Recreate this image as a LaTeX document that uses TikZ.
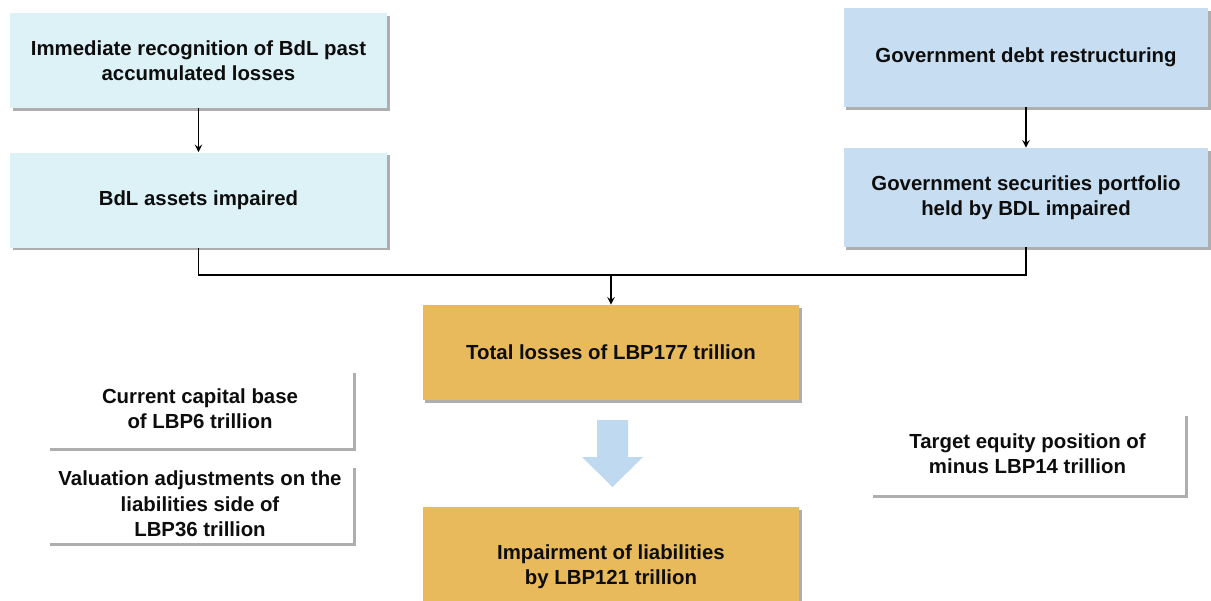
\documentclass[tikz,border=0pt]{standalone}
\usepackage{xcolor}
\usepackage{fontspec}
\setmainfont{Liberation Sans}
\usepackage{tikz}
\usetikzlibrary{calc, shadows}

\definecolor{paleblue}{RGB}{221,242,247}
\definecolor{midblue}{RGB}{199,222,242}
\definecolor{gold}{RGB}{232,186,92}
\definecolor{arrowblue}{RGB}{190,217,240}

\begin{document}
\begin{tikzpicture}[x=0.02cm, y=-0.02cm,
		box/.style = {align = center, font = \fontsize{11.6}{14.4}\selectfont\bfseries, text = black!95,
			drop shadow = {shadow xshift = 1.5pt, shadow yshift = -1.5pt, fill = black!45, opacity = 0.7}},
		widebox/.style = {box, minimum width = 7.54cm, minimum height = 1.9cm}
	]
		\def\mx{611};
		\def\jy{275};
		
		\useasboundingbox (0,0) rectangle (1211,600);
		\clip (0,0) rectangle (1211,600);
		
		\node [widebox, fill = paleblue] (recog) at (198.5,60.5) {Immediate recognition of BdL past\\accumulated losses};
		\node [widebox, fill = paleblue] (assets) at (198.5,200) {BdL assets impaired};
		
		\node [widebox, fill = midblue, minimum width = 7.3cm, minimum height = 1.98cm] (debt) at (1026,57.5) {Government debt restructuring};
		\node [widebox, fill = midblue, minimum width = 7.3cm, minimum height = 1.98cm] (portf) at (1026,197.5) {Government securities portfolio\\held by BDL impaired};
		
		\node [widebox, fill = gold] (total) at (\mx,352.5) {Total losses of LBP177 trillion};
		\node [widebox, fill = gold, minimum height = 2.4cm] (impair) at (\mx,567) {Impairment of liabilities\\by LBP121 trillion};
		
		\node [box, fill = white, minimum width = 6.12cm, minimum height = 1.56cm] (cap) at (200,409) {Current capital base\\of LBP6 trillion};
		\node [box, fill = white, minimum width = 6.12cm, minimum height = 1.56cm] (val) at (200,504) {Valuation adjustments on the\\liabilities side of\\LBP36 trillion};
		\node [box, fill = white, minimum width = 6.3cm, minimum height = 1.64cm] (target) at (1027.5,454) {Target equity position of\\minus LBP14 trillion};
		
		\coordinate (join) at (\mx,\jy);
		
		\draw [-stealth, line width = 0.9pt] (recog) -- (assets);
		\draw [-stealth, line width = 0.9pt] (debt) -- (portf);
		
		\draw [line width = 0.9pt] (assets.south) |- (join);
		\draw [line width = 0.9pt] (portf.south) |- (join);
		\draw [-stealth, line width = 0.9pt] (join) -- (total.north);
		
		\fill [arrowblue] (597,420) -- (628,420) -- (628,457) -- (643,457) -- (612.5,487) -- (582,457) -- (597,457) -- cycle;
	\end{tikzpicture}
\end{document}
